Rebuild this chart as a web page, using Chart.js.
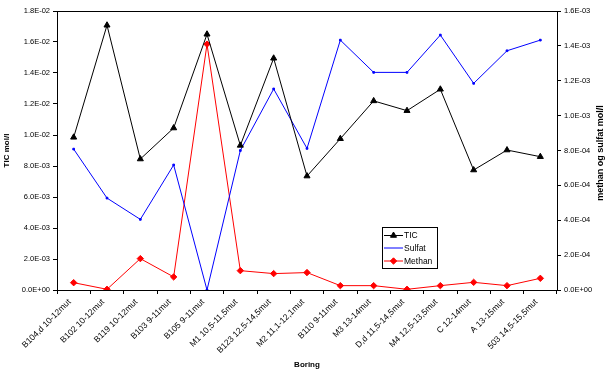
<!DOCTYPE html>
<html>
<head>
<meta charset="utf-8">
<script src="https://cdn.jsdelivr.net/npm/chart.js@4"></script>
<style>
  html, body { margin: 0; padding: 0; background: #fff; }
  #wrap { width: 611px; height: 374px; position: relative; }
</style>
</head>
<body>
<div id="wrap"><canvas id="c" width="611" height="374"></canvas></div>
<script>
const categories = [
  "B104,d 10-12mut", "B102 10-12mut", "B119 10-12mut", "B103 9-11mut", "B105 9-11mut",
  "M1 10,5-11,5mut", "B123 12,5-14,5mut", "M2 11,1-12,1mut", "B110 9-11mut", "M3 13-14mut",
  "D,d 11,5-14,5mut", "M4 12,5-13,5mut", "C 12-14mut", "A 13-15mut", "503 14,5-15,5mut"
];
const ticValues = [9.85e-3, 1.708e-2, 8.45e-3, 1.045e-2, 1.65e-2, 9.33e-3, 1.495e-2, 7.35e-3,
  9.76e-3, 1.22e-2, 1.157e-2, 1.295e-2, 7.74e-3, 9.03e-3, 8.6e-3];
const sulfatValues = [8.08e-4, 5.27e-4, 4.05e-4, 7.17e-4, 0, 8.0e-4, 1.153e-3, 8.12e-4,
  1.433e-3, 1.248e-3, 1.248e-3, 1.462e-3, 1.185e-3, 1.372e-3, 1.433e-3];
const methanValues = [4.2e-5, 4e-6, 1.8e-4, 7.5e-5, 1.41e-3, 1.11e-4, 9.4e-5, 1.0e-4,
  2.5e-5, 2.5e-5, 4e-6, 2.5e-5, 4.4e-5, 2.5e-5, 6.7e-5];
const leftTickRange = [0, 0.018, 0.002];   // min, max, step
const rightTickRange = [0, 0.0016, 0.0002];
const seriesNames = ["TIC", "Sulfat", "Methan"];
const axisTitles = { x: "Boring", left: "TIC mol/l", right: "methan og sulfat mol/l" };

const FONT = "'Liberation Sans', Arial, sans-serif";

function excelExp(v) {
  if (Math.abs(v) < 1e-15) return "0.0E+00";
  const s = v.toExponential(1);
  const [m, e] = s.split("e");
  const n = parseInt(e, 10);
  const sign = n < 0 ? "-" : "+";
  const a = Math.abs(n);
  return m + "E" + sign + (a < 10 ? "0" + a : "" + a);
}

const boxPlugin = {
  id: "boxPlugin",
  afterDraw(chart) {
    const ctx = chart.ctx;
    const a = chart.chartArea;
    ctx.save();
    // top border of plot area
    ctx.strokeStyle = "#000";
    ctx.lineWidth = 1;
    ctx.beginPath();
    ctx.moveTo(a.left, Math.round(a.top) + 0.5);
    ctx.lineTo(a.right, Math.round(a.top) + 0.5);
    ctx.stroke();

    // right axis title (reads bottom to top)
    ctx.fillStyle = "#000";
    ctx.font = "bold 9px " + FONT;
    ctx.textAlign = "center";
    ctx.textBaseline = "middle";
    ctx.translate(601, (a.top + a.bottom) / 2 + 2.5);
    ctx.rotate(-Math.PI / 2);
    ctx.fillText(axisTitles.right, 0, 0);
    ctx.restore();

    // legend
    ctx.save();
    const lx = 382.5, ly = 227.5, lw = 55, lh = 41;
    ctx.fillStyle = "#fff";
    ctx.fillRect(lx, ly, lw, lh);
    ctx.strokeStyle = "#000";
    ctx.lineWidth = 1;
    ctx.strokeRect(lx, ly, lw, lh);
    const rowY = [235.5, 248, 261];
    chart.data.datasets.forEach((ds, i) => {
      const y = rowY[i];
      ctx.strokeStyle = ds.borderColor;
      ctx.lineWidth = 1;
      ctx.beginPath();
      ctx.moveTo(384, y);
      ctx.lineTo(403, y);
      ctx.stroke();
      if (ds.legendMarker) {
        ctx.fillStyle = ds.pointBackgroundColor;
        ctx.strokeStyle = ds.pointBorderColor;
        Chart.helpers.drawPoint(ctx, {
          pointStyle: ds.pointStyle, radius: ds.pointRadius, rotation: 0, borderWidth: 1
        }, 393.5, y);
      }
      ctx.fillStyle = "#000";
      ctx.font = "8.5px " + FONT;
      ctx.textAlign = "left";
      ctx.textBaseline = "middle";
      ctx.fillText(ds.label, 404, y + 0.5);
    });
    ctx.restore();
  }
};

new Chart(document.getElementById("c"), {
  type: "line",
  data: {
    labels: categories,
    datasets: [
      {
        label: seriesNames[0], data: ticValues, yAxisID: "y",
        borderColor: "#000000", backgroundColor: "#000000",
        pointBackgroundColor: "#000000", pointBorderColor: "#000000",
        borderWidth: 1, pointStyle: "triangle", pointRadius: 3.5, pointBorderWidth: 1,
        tension: 0, legendMarker: true
      },
      {
        label: seriesNames[1], data: sulfatValues, yAxisID: "y1",
        borderColor: "#0000FF", backgroundColor: "#0000FF",
        pointBackgroundColor: "#0000FF", pointBorderColor: "#0000FF",
        borderWidth: 1, pointStyle: "rect", pointRadius: 1.2, pointBorderWidth: 1,
        tension: 0, legendMarker: false
      },
      {
        label: seriesNames[2], data: methanValues, yAxisID: "y1",
        borderColor: "#FF0000", backgroundColor: "#FF0000",
        pointBackgroundColor: "#FF0000", pointBorderColor: "#FF0000",
        borderWidth: 1, pointStyle: "rectRot", pointRadius: 3.2, pointBorderWidth: 1,
        tension: 0, legendMarker: true
      }
    ]
  },
  options: {
    responsive: false,
    animation: false,
    events: [],
    layout: { padding: { top: 11, left: 0, right: 0, bottom: 0 } },
    plugins: { legend: { display: false }, tooltip: { enabled: false } },
    scales: {
      x: {
        type: "category",
        offset: true,
        grid: { display: true, drawOnChartArea: false, offset: true, tickLength: 4, color: "#000", lineWidth: 1 },
        border: { display: true, color: "#000", width: 1 },
        ticks: {
          autoSkip: false, minRotation: 45, maxRotation: 45, padding: 3, labelOffset: -4,
          color: "#000", font: { family: FONT, size: 8.5 }
        },
        title: {
          display: true, text: axisTitles.x, color: "#000",
          font: { family: FONT, size: 8, weight: "bold" }, padding: { top: 0, bottom: 4 }
        },
        afterFit(s) { s.height = 84; }
      },
      y: {
        position: "left",
        min: leftTickRange[0], max: leftTickRange[1],
        grid: { display: true, drawOnChartArea: false, tickLength: 4, color: "#000", lineWidth: 1 },
        border: { display: true, color: "#000", width: 1 },
        ticks: {
          stepSize: leftTickRange[2], padding: 3, color: "#000",
          font: { family: FONT, size: 7.5 },
          callback: (v) => excelExp(v)
        },
        title: {
          display: true, text: axisTitles.left, color: "#000",
          font: { family: FONT, size: 8, weight: "bold" }, padding: { top: 2, bottom: 0 }
        },
        afterFit(s) { s.width = 57; }
      },
      y1: {
        position: "right",
        min: rightTickRange[0], max: rightTickRange[1],
        grid: { display: true, drawOnChartArea: false, tickLength: 4, color: "#000", lineWidth: 1 },
        border: { display: true, color: "#000", width: 1 },
        ticks: {
          stepSize: rightTickRange[2], padding: 3, color: "#000",
          font: { family: FONT, size: 7.5 },
          callback: (v) => excelExp(v)
        },
        title: { display: false },
        afterFit(s) { s.width = 54; }
      }
    }
  },
  plugins: [boxPlugin]
});
</script>
</body>
</html>
